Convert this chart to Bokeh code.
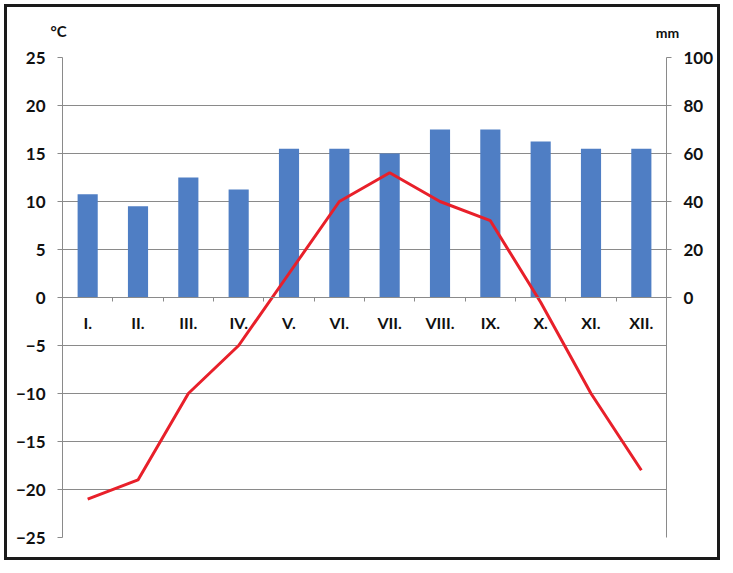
from bokeh.plotting import figure
from bokeh.models import Range1d, LinearAxis, FixedTicker, Label
from bokeh.embed import file_html
from bokeh.resources import INLINE

# monthly climate data
months = ["I.", "II.", "III.", "IV.", "V.", "VI.", "VII.", "VIII.", "IX.", "X.", "XI.", "XII."]
precip_mm = [43, 38, 50, 45, 62, 62, 60, 70, 70, 65, 62, 62]
temp_c = [-21, -19, -10, -5, 2.5, 10, 13, 10, 8, -0.5, -10, -18]

temp_ticks = [-25, -20, -15, -10, -5, 0, 5, 10, 15, 20, 25]
precip_ticks = [0, 20, 40, 60, 80, 100]

FONT = "Lato"
GRID = "#8a8a8a"
TXT = "#111111"

pos = list(range(1, len(months) + 1))
bounds = [p_ - 0.5 for p_ in pos] + [len(months) + 0.5]

p = figure(width=710, height=550, output_backend="svg", toolbar_location=None,
           x_range=Range1d(0.5, 12.5), y_range=Range1d(-25, 25),
           min_border_left=55, min_border_right=57, min_border_top=50, min_border_bottom=26)
p.extra_y_ranges = {"mm": Range1d(-100, 100)}
p.outline_line_color = None
# black box round the whole chart
p.styles = {"border": "3px solid #1a1a1a", "box-sizing": "content-box", "margin": "4px"}

# bars (precipitation) on the right scale
p.vbar(x=pos, top=precip_mm, width=0.4, bottom=0, y_range_name="mm",
       fill_color="#4F7EC4", line_color=None)

# temperature line on the left scale
p.line(pos, temp_c, line_color="#E8202A", line_width=3)

# grid
p.xgrid.grid_line_color = None
p.ygrid.ticker = FixedTicker(ticks=temp_ticks)
p.ygrid.grid_line_color = GRID
p.ygrid.grid_line_width = 1


def style_axis(ax):
    ax.axis_line_color = GRID
    ax.major_tick_line_color = GRID
    ax.major_tick_out = 5
    ax.major_tick_in = 0
    ax.minor_tick_line_color = None
    ax.major_label_standoff = 12
    ax.major_label_text_font = FONT
    ax.major_label_text_font_style = "bold"
    ax.major_label_text_font_size = "17px"
    ax.major_label_text_color = TXT


# left axis
ya = p.yaxis[0]
ya.ticker = FixedTicker(ticks=temp_ticks)
style_axis(ya)

# right axis (mm)
ra = LinearAxis(y_range_name="mm", ticker=FixedTicker(ticks=precip_ticks))
style_axis(ra)
p.add_layout(ra, "right")

# month axis sitting on the zero line
xa = p.xaxis[0]
xa.fixed_location = 0
xa.ticker = FixedTicker(ticks=pos, minor_ticks=bounds)
xa.major_label_overrides = {i: m for i, m in zip(pos, months)}
style_axis(xa)
xa.major_tick_line_color = None
xa.minor_tick_line_color = GRID
xa.minor_tick_out = 4
xa.minor_tick_in = 0
xa.major_label_standoff = 10
xa.major_label_text_font_size = "16px"

# unit labels, in canvas pixels (side panel so they are not clipped)
p.add_layout(Label(x=48, y=20, x_units="canvas", y_units="canvas", text="°C",
                   text_align="center", text_baseline="middle",
                   text_font=FONT, text_font_style="bold", text_font_size="15px",
                   text_color=TXT), "above")
p.add_layout(Label(x=657, y=22, x_units="canvas", y_units="canvas", text="mm",
                   text_align="center", text_baseline="middle",
                   text_font=FONT, text_font_style="bold", text_font_size="14px",
                   text_color=TXT), "above")

open("out.html", "w").write(file_html(p, INLINE))
